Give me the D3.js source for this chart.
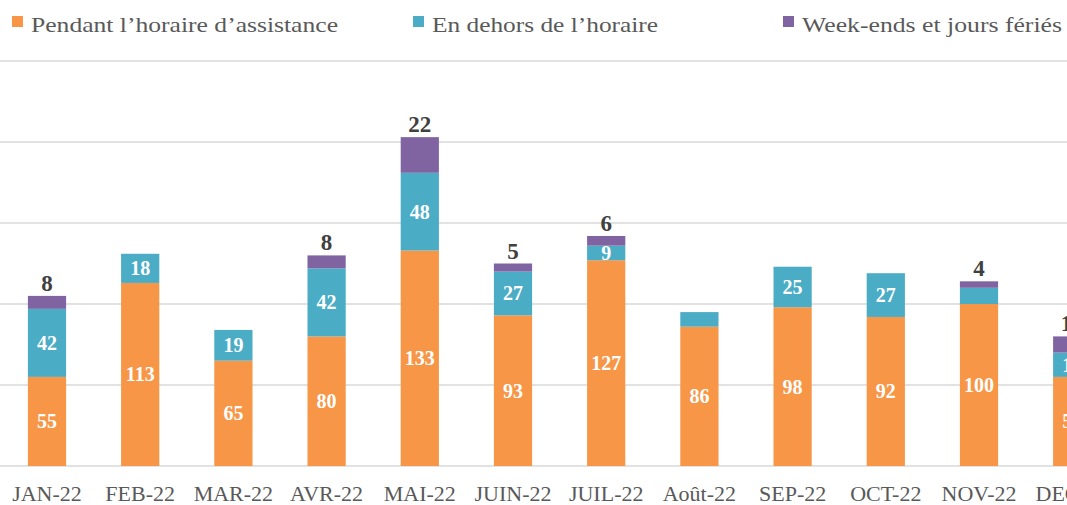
<!DOCTYPE html>
<html>
<head>
<meta charset="utf-8">
<script src="https://cdn.jsdelivr.net/npm/d3@7"></script>
<style>
  body { margin: 0; background: #fff; overflow: hidden; }
  text { font-family: "Liberation Serif", "DejaVu Serif", serif; }
</style>
</head>
<body>
<svg id="chart" width="1067" height="505"></svg>
<script>
// data
var months = ["JAN-22", "FEB-22", "MAR-22", "AVR-22", "MAI-22", "JUIN-22", "JUIL-22", "Août-22", "SEP-22", "OCT-22", "NOV-22", "DEC-22"];
var pendant = [55, 113, 65, 80, 133, 93, 127, 86, 98, 92, 100, 55];
var dehors  = [42, 18, 19, 42, 48, 27, 9, 9, 25, 27, 10, 15];
var weekend = [8, 0, 0, 8, 22, 5, 6, 0, 0, 0, 4, 10];
var yTicks = [0, 50, 100, 150, 200, 250];
var seriesNames = ["Pendant l’horaire d’assistance", "En dehors de l’horaire", "Week-ends et jours fériés"];
var colors = ["#F79646", "#4BACC6", "#8064A2"];
// labels that don't show in the original
var hideDehors = ["Août-22", "NOV-22"];

var svg = d3.select("#chart"),
    width = +svg.attr("width"),
    height = +svg.attr("height");

var rows = months.map(function(m, i) {
  return { month: m, pendant: pendant[i], dehors: dehors[i], weekend: weekend[i] };
});

var keys = ["pendant", "dehors", "weekend"];
var stacked = d3.stack().keys(keys)(rows);

// step ~93px, chart runs off the right edge like the original
var x = d3.scaleBand().domain(months).range([0.4, 1118.8])
    .paddingInner(0.59).paddingOuter(0.295);
var y = d3.scaleLinear().domain([0, 250]).range([466, 61]);

// gridlines
svg.append("g").selectAll("line")
  .data(yTicks)
  .join("line")
    .attr("x1", 0).attr("x2", width)
    .attr("y1", function(d) { return y(d); })
    .attr("y2", function(d) { return y(d); })
    .attr("stroke", "#d9d9d9")
    .attr("stroke-width", 1.5);

// bars
var layers = svg.append("g").selectAll("g")
  .data(stacked)
  .join("g")
    .attr("fill", function(d, i) { return colors[i]; });

layers.selectAll("rect")
  .data(function(d) { return d; })
  .join("rect")
    .attr("x", function(d) { return x(d.data.month); })
    .attr("width", x.bandwidth())
    .attr("y", function(d) { return y(d[1]); })
    .attr("height", function(d) { return y(d[0]) - y(d[1]); });

// labels inside orange and teal segments
[0, 1].forEach(function(k) {
  svg.append("g").selectAll("text")
    .data(stacked[k].filter(function(d) {
      return d[1] - d[0] > 0 && !(k == 1 && hideDehors.indexOf(d.data.month) >= 0);
    }))
    .join("text")
      .attr("x", function(d) { return x(d.data.month) + x.bandwidth() / 2; })
      .attr("y", function(d) { return (y(d[0]) + y(d[1])) / 2 + 7; })
      .attr("text-anchor", "middle")
      .attr("fill", "#fff")
      .style("font-weight", "bold")
      .style("font-size", "20px")
      .text(function(d) { return d[1] - d[0]; });
});

// week-end labels above the bars
svg.append("g").selectAll("text")
  .data(stacked[2].filter(function(d) { return d[1] - d[0] > 0; }))
  .join("text")
    .attr("x", function(d) { return x(d.data.month) + x.bandwidth() / 2; })
    .attr("y", function(d) { return y(d[1]) - 5; })
    .attr("text-anchor", "middle")
    .attr("fill", "#404040")
    .style("font-weight", "bold")
    .style("font-size", "23px")
    .text(function(d) { return d[1] - d[0]; });

// x axis labels
svg.append("g").selectAll("text")
  .data(months)
  .join("text")
    .attr("x", function(d) { return x(d) + x.bandwidth() / 2; })
    .attr("y", 501)
    .attr("text-anchor", "middle")
    .attr("fill", "#595959")
    .style("font-size", "22px")
    .text(function(d) { return d; });

// legend (Cambria in the original is wider, so stretch a bit)
var legendX = [12, 413, 783];
var legendW = [307, 226, 260];
var legend = svg.append("g").selectAll("g")
  .data(seriesNames)
  .join("g")
    .attr("transform", function(d, i) { return "translate(" + legendX[i] + ",0)"; });

legend.append("rect")
    .attr("x", 0).attr("y", 16)
    .attr("width", 11).attr("height", 11)
    .attr("fill", function(d, i) { return colors[i]; });

legend.append("text")
    .attr("x", 19).attr("y", 32)
    .attr("fill", "#595959")
    .attr("textLength", function(d, i) { return legendW[i]; })
    .attr("lengthAdjust", "spacingAndGlyphs")
    .style("font-size", "22px")
    .text(function(d) { return d; });
</script>
</body>
</html>
